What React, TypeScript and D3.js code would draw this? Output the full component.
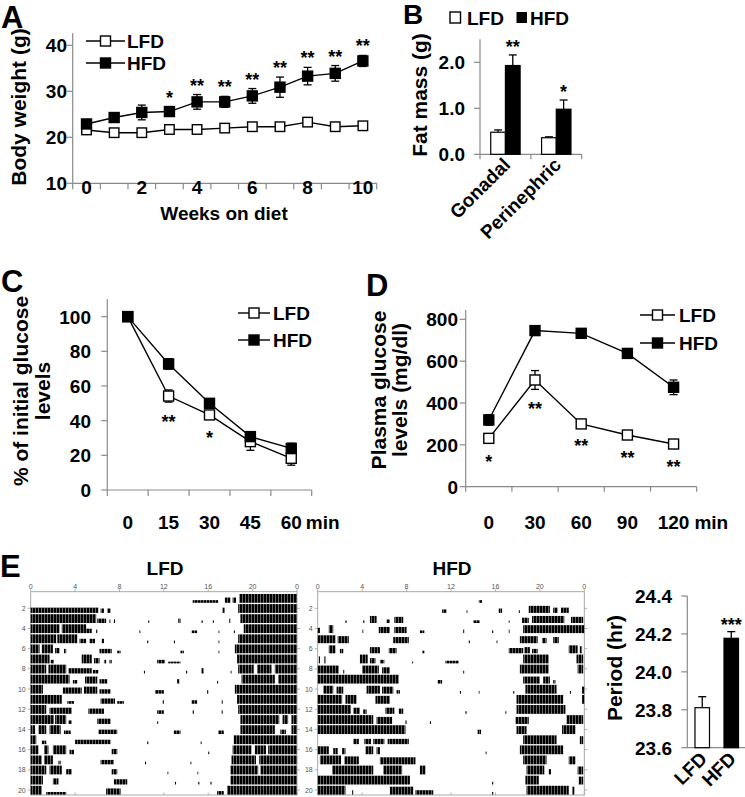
import React from "react";
import * as d3 from "d3";

const FONT = '"Liberation Sans", Arial, Helvetica, sans-serif';
const AXIS = "#8a8a8a";

// ---------- Panel A: body weight ----------
const weeks = [0, 1, 2, 3, 4, 5, 6, 7, 8, 9, 10];
const weekLabelShown = [0, 2, 4, 6, 8, 10];
const bwLFD = [21.6, 21.0, 21.0, 21.7, 21.7, 22.0, 22.3, 22.3, 23.3, 22.3, 22.5];
const bwLFDErr = [0.6, 0.7, 0.6, 0.6, 0.6, 0.6, 0.7, 0.7, 0.8, 0.6, 0.7];
const bwHFD = [22.9, 24.3, 25.4, 25.6, 27.7, 27.7, 29.0, 30.9, 33.3, 33.9, 36.6];
const bwHFDErr = [0.6, 1.0, 1.6, 1.0, 1.6, 1.2, 1.6, 2.2, 1.9, 1.7, 1.2];
const bwSig = ["", "", "", "*", "**", "**", "**", "**", "**", "**", "**"];
const bwTicks = [10, 20, 30, 40];

// ---------- Panel B: fat mass ----------
const fatSites = ["Gonadal", "Perinephric"];
const fatLFD = [0.48, 0.36];
const fatLFDErr = [0.05, 0.02];
const fatHFD = [1.93, 0.98];
const fatHFDErr = [0.23, 0.2];
const fatSig = ["**", "*"];
const fatTicks = [0, 1, 2];

// ---------- Panel C: insulin tolerance ----------
const ittTimes = ["0", "15", "30", "45", "60"];
const ittLFD = [100, 54.2, 43.3, 27.9, 18.3];
const ittLFDErr = [1, 3.5, 2, 5, 4];
const ittHFD = [100, 72.7, 50, 30.8, 24];
const ittHFDErr = [1, 3, 2, 2, 3];
const ittSig = ["", "**", "*", "", ""];
const ittTicks = [0, 20, 40, 60, 80, 100];

// ---------- Panel D: glucose tolerance ----------
const gttTimes = ["0", "30", "60", "90", "120"];
const gttLFD = [231, 510, 300, 247, 204];
const gttLFDErr = [15, 45, 12, 12, 12];
const gttHFD = [319, 746, 733, 637, 475];
const gttHFDErr = [25, 15, 18, 22, 35];
const gttSig = ["*", "**", "**", "**", "**"];
const gttTicks = [0, 200, 400, 600, 800];

// ---------- Panel E: period ----------
const groups = ["LFD", "HFD"];
const period = [23.811, 24.177];
const periodErr = [0.058, 0.035];
const periodSig = ["", "***"];
const periodTicks = [23.6, 23.8, 24.0, 24.2, 24.4];

// Actogram: per day, activity bouts [startHour, endHour, relativeHeight]
const actoHourTicks = [0, 4, 8, 12, 16, 20, 24];
const actoDayTicks = [2, 4, 6, 8, 10, 12, 14, 16, 18, 20];
const actoLFD: number[][][] = [
  [[14.6, 16.9, 0.3], [17.5, 18.0, 0.6], [18.2, 18.5, 0.6], [18.8, 24, 1]],
  [[0, 6.1, 0.6], [6.3, 6.6, 0.5], [6.9, 7.2, 0.5], [17.3, 17.5, 0.6], [18.7, 24, 1]],
  [[0, 5.9, 1], [6.0, 6.8, 0.5], [7.1, 7.2, 0.4], [7.5, 7.6, 0.4], [10.6, 10.7, 0.3], [13.3, 13.5, 0.5], [15.4, 15.5, 0.3], [16.4, 16.5, 0.3], [17.9, 18.0, 0.5], [18.9, 24, 1]],
  [[0, 2.6, 1], [2.8, 5.0, 1], [5.0, 5.5, 0.5], [5.9, 6.0, 0.4], [9.8, 9.9, 0.3], [14.5, 15.0, 0.3], [16.9, 17.0, 0.3], [18.3, 18.4, 0.3], [19.2, 24, 1]],
  [[0, 2.3, 1], [2.4, 4.2, 1], [4.4, 5.0, 0.5], [5.3, 5.8, 0.5], [6.4, 6.6, 0.5], [10.5, 10.6, 0.3], [12.9, 13.0, 0.3], [16.9, 17.0, 0.3], [18.7, 24, 1]],
  [[0, 0.8, 1], [1.0, 2.0, 1], [2.2, 2.6, 0.6], [3.0, 3.2, 0.5], [6.2, 7.3, 0.5], [7.8, 8.1, 0.3], [13.5, 13.8, 0.3], [16.9, 17.0, 0.3], [18.4, 24, 1]],
  [[0, 1.7, 1], [1.8, 2.1, 0.4], [4.6, 5.5, 1], [5.7, 6.2, 0.6], [6.6, 6.8, 0.4], [7.1, 7.3, 0.4], [11.4, 12.1, 0.4], [12.4, 13.5, 0.2], [18.6, 24, 1]],
  [[0, 1.4, 1], [1.6, 3.2, 1], [3.4, 5.5, 0.6], [5.6, 6.1, 0.4], [10.2, 10.3, 0.3], [14.0, 14.1, 0.3], [15.4, 15.6, 0.6], [18.0, 18.1, 0.3], [18.7, 20.1, 1], [20.4, 21.7, 1], [22.0, 24, 1]],
  [[0, 3.5, 1], [3.8, 4.2, 0.4], [4.9, 6.0, 0.8], [6.2, 6.9, 0.5], [13.2, 13.4, 0.5], [16.8, 16.9, 0.3], [19.0, 22.0, 1], [22.3, 24, 1]],
  [[0, 1.1, 1], [2.9, 4.6, 0.7], [4.8, 6.0, 0.8], [6.2, 7.2, 0.5], [11.2, 12.0, 0.4], [15.9, 16.0, 0.4], [18.4, 24, 1]],
  [[0, 2.8, 1], [3.3, 3.9, 0.3], [6.3, 7.6, 0.6], [7.8, 8.4, 0.3], [11.9, 12.0, 0.4], [14.5, 15.0, 0.4], [17.2, 17.3, 0.4], [18.6, 24, 1]],
  [[0, 1.4, 1], [1.7, 3.7, 0.7], [5.2, 6.6, 0.6], [11.4, 12.0, 0.4], [14.6, 14.7, 0.4], [17.2, 17.3, 0.4], [18.7, 24, 1]],
  [[0, 2.1, 1], [2.2, 3.2, 1], [3.4, 3.7, 0.4], [6.0, 7.2, 0.6], [11.4, 11.5, 0.3], [18.9, 22.4, 1], [22.7, 23.2, 1], [23.5, 24, 1]],
  [[0, 0.4, 1], [0.7, 1.4, 1], [1.7, 2.7, 1], [3.0, 3.6, 0.4], [6.1, 7.8, 0.5], [12.9, 13.5, 0.4], [16.9, 17.4, 0.4], [18.9, 22.0, 1], [22.5, 23.0, 0.5], [23.5, 24, 1]],
  [[0, 0.5, 1], [1.0, 1.4, 0.4], [4.0, 7.2, 0.5], [10.5, 10.6, 0.3], [15.3, 15.4, 0.3], [18.3, 24, 1]],
  [[0, 0.7, 1], [1.2, 1.6, 1], [2.0, 3.2, 1], [3.5, 3.9, 0.5], [7.3, 7.8, 0.6], [16.0, 16.1, 0.3], [18.2, 19.9, 1], [20.2, 21.2, 1], [21.4, 24, 1]],
  [[0, 1.0, 1], [1.2, 2.0, 1], [2.5, 2.7, 0.4], [6.3, 7.5, 0.5], [10.3, 10.4, 0.3], [14.4, 14.5, 0.3], [18.1, 20.3, 1], [20.6, 24, 1]],
  [[0, 1.4, 1], [1.7, 2.8, 1], [3.2, 3.7, 0.6], [7.3, 7.8, 0.6], [12.3, 12.4, 0.3], [15.0, 15.1, 0.3], [18.0, 20.5, 1], [20.7, 24, 1]],
  [[0, 1.1, 1], [2.0, 2.5, 0.7], [7.5, 8.7, 0.6], [13.0, 13.1, 0.3], [15.1, 15.2, 0.3], [16.2, 16.3, 0.3], [18.0, 24, 1]],
  [[0, 1.0, 1], [1.4, 3.2, 0.3], [6.8, 8.1, 0.7], [16.8, 17.4, 0.4], [17.7, 24, 1]],
];
const actoHFD: number[][][] = [
  [[14.5, 14.8, 0.3]],
  [[11.2, 11.6, 0.4], [13.4, 13.5, 0.3], [16.3, 16.6, 0.5], [18.1, 18.2, 0.3], [19.0, 20.9, 0.8], [21.2, 21.6, 0.6], [21.9, 22.6, 0.6]],
  [[2.5, 2.6, 0.3], [4.1, 4.2, 0.3], [4.7, 5.3, 0.8], [6.2, 6.5, 0.4], [6.9, 7.7, 0.7], [14.0, 14.6, 0.3], [17.2, 17.3, 0.3], [18.4, 19.0, 0.6], [19.3, 22.2, 0.8], [22.8, 23.9, 0.7]],
  [[0, 0.2, 0.6], [1.0, 1.4, 0.9], [4.0, 4.1, 0.4], [5.5, 6.5, 0.7], [6.9, 8.0, 0.7], [9.2, 9.6, 0.3], [13.1, 13.2, 0.4], [15.7, 15.8, 0.3], [17.2, 17.3, 0.4], [18.5, 24, 0.9]],
  [[0, 1.6, 0.9], [1.8, 2.8, 0.8], [6.8, 8.2, 0.7], [13.6, 13.7, 0.3], [16.1, 16.2, 0.3], [18.2, 19.8, 0.8], [20.2, 20.6, 0.6], [21.2, 21.7, 0.7]],
  [[1.0, 1.6, 0.9], [2.0, 2.3, 0.5], [4.7, 5.6, 0.7], [6.4, 7.1, 0.6], [9.4, 9.6, 0.3], [17.2, 18.5, 0.6], [18.6, 19.1, 0.7], [19.3, 19.8, 0.5], [22.6, 23.4, 0.9], [23.6, 23.8, 0.8]],
  [[0.1, 0.2, 0.8], [0.6, 0.7, 0.8], [3.8, 4.5, 1], [4.7, 5.2, 0.6], [5.6, 6.0, 0.4], [8.5, 8.6, 0.2], [11.5, 12.7, 0.3], [18.5, 20.8, 1], [23.3, 23.9, 1]],
  [[0, 1.9, 0.9], [2.3, 2.4, 0.4], [4.0, 5.5, 0.9], [5.8, 6.5, 0.7], [13.1, 13.2, 0.3], [18.2, 20.8, 1], [23.4, 23.9, 1]],
  [[0, 7.3, 1], [10.8, 11.2, 0.4], [18.5, 20.0, 0.8], [20.3, 20.9, 0.8], [21.2, 21.4, 0.4]],
  [[0.5, 1.4, 0.9], [1.7, 2.3, 0.8], [4.4, 5.6, 0.9], [5.8, 6.8, 0.8], [7.1, 7.4, 0.4], [12.8, 12.9, 0.3], [14.5, 14.6, 0.3], [17.6, 17.7, 0.3], [18.7, 21.5, 1], [22.7, 22.8, 0.3], [23.8, 24, 0.8]],
  [[0, 2.2, 1], [2.5, 3.5, 1], [5.2, 6.5, 0.9], [17.9, 22.1, 1], [23.8, 24, 1]],
  [[0, 3.0, 1], [3.2, 3.8, 0.7], [4.1, 4.4, 0.5], [6.1, 6.9, 0.7], [7.3, 7.7, 0.6], [13.3, 13.4, 0.3], [16.9, 17.0, 0.3], [17.9, 22.3, 1]],
  [[0, 5.0, 1], [5.3, 6.7, 0.8], [7.9, 8.0, 0.4], [10.1, 10.2, 0.3], [17.8, 19.0, 0.8], [22.4, 23.9, 1]],
  [[0, 7.9, 1], [14.4, 14.7, 0.5], [17.9, 18.8, 0.9], [22.0, 23.2, 1]],
  [[3.2, 3.7, 0.6], [4.2, 4.8, 0.6], [5.0, 6.0, 0.6], [6.3, 8.2, 0.6], [18.5, 21.5, 1], [23.6, 23.9, 0.9]],
  [[0, 1.0, 0.9], [1.4, 1.8, 0.7], [2.2, 2.5, 0.7], [4.3, 5.0, 0.9], [5.3, 5.6, 0.8], [15.1, 15.2, 0.3], [18.2, 22.1, 1]],
  [[0.2, 2.1, 1], [2.4, 3.7, 0.9], [5.6, 8.8, 0.8], [18.5, 20.6, 1], [22.6, 23.2, 0.9]],
  [[1.3, 5.0, 1], [5.9, 7.6, 1], [9.2, 9.7, 1], [18.8, 20.4, 1], [20.8, 21.0, 0.6], [23.4, 23.9, 0.9]],
  [[0, 8.3, 1], [15.7, 15.8, 0.3], [18.7, 19.9, 1], [23.5, 23.9, 0.9]],
  [[0, 2.5, 1], [3.1, 3.2, 0.5], [6.5, 8.6, 0.9], [8.8, 10.4, 0.5], [15.7, 15.8, 0.3], [18.8, 22.6, 1], [22.9, 23.1, 0.9]],
];

// ---------- helpers ----------
const bold = { fontFamily: FONT, fontWeight: 700 as const };

function Series({ xs, ys, errs, y, filled, size = 10 }: any) {
  const line = d3.line<number>().x((_, i) => xs[i]).y((v) => y(v));
  return (
    <g>
      <path d={line(ys) || ""} fill="none" stroke="#000" strokeWidth={1.4} />
      {ys.map((v: number, i: number) => (
        <g key={i} stroke="#000" strokeWidth={1.3}>
          <line x1={xs[i]} x2={xs[i]} y1={y(v - errs[i])} y2={y(v + errs[i])} />
          <line x1={xs[i] - 4} x2={xs[i] + 4} y1={y(v + errs[i])} y2={y(v + errs[i])} />
          <line x1={xs[i] - 4} x2={xs[i] + 4} y1={y(v - errs[i])} y2={y(v - errs[i])} />
        </g>
      ))}
      {ys.map((v: number, i: number) => (
        <rect key={"m" + i} x={xs[i] - size / 2} y={y(v) - size / 2} width={size} height={size}
          fill={filled ? "#000" : "#fff"} stroke="#000" strokeWidth={1.4} />
      ))}
    </g>
  );
}

function Legend({ x1, x2, yL, yH, tx, fs = 19 }: any) {
  const cx = (x1 + x2) / 2;
  return (
    <g>
      {[{ y: yL, f: false, t: "LFD" }, { y: yH, f: true, t: "HFD" }].map((d) => (
        <g key={d.t}>
          <line x1={x1} x2={x2} y1={d.y} y2={d.y} stroke="#000" strokeWidth={1.4} />
          <rect x={cx - 5} y={d.y - 5} width={10} height={10} fill={d.f ? "#000" : "#fff"} stroke="#000" strokeWidth={1.4} />
          <text x={tx} y={d.y + 7} fontSize={fs} {...bold}>{d.t}</text>
        </g>
      ))}
    </g>
  );
}

function YAxis({ x, y, ticks, fmt, top, labelEnd, fs = 19 }: any) {
  const [y0] = y.range();
  return (
    <g>
      <line x1={x} x2={x} y1={y0} y2={top} stroke={AXIS} strokeWidth={1.2} />
      {ticks.map((t: number) => (
        <g key={t}>
          <line x1={x - 6} x2={x} y1={y(t)} y2={y(t)} stroke={AXIS} strokeWidth={1.2} />
          <text x={labelEnd} y={y(t) + 7} textAnchor="end" fontSize={fs} {...bold}>{fmt(t)}</text>
        </g>
      ))}
    </g>
  );
}

function BandXAxis({ x, y0, tickLen = 6 }: any) {
  const [r0, r1] = x.range();
  const edges = [...x.domain().map((d: any) => x(d)), r1];
  return (
    <g>
      <line x1={r0} x2={r1} y1={y0} y2={y0} stroke={AXIS} strokeWidth={1.2} />
      {edges.map((e: number, i: number) => (
        <line key={i} x1={e} x2={e} y1={y0} y2={y0 + tickLen} stroke={AXIS} strokeWidth={1.2} />
      ))}
    </g>
  );
}

function Actogram({ x0, x1, rows, title, titleX }: any) {
  const xh = d3.scaleLinear().domain([0, 24]).range([x0, x1]);
  const dy = d3.scaleLinear().domain([2, 20]).range([608.3, 790]);
  const top = 591.7;
  const bottom = 795;
  const H = 8.8;
  return (
    <g>
      <text x={titleX} y={575} textAnchor="middle" fontSize={19} {...bold}>{title}</text>
      <rect x={x0} y={top} width={x1 - x0} height={bottom - top} fill="none" stroke="#a0a0a0" strokeWidth={0.9} />
      {actoHourTicks.map((h) => (
        <g key={h}>
          <line x1={xh(h)} x2={xh(h)} y1={top} y2={top - 2.5} stroke="#a0a0a0" strokeWidth={0.8} />
          <text x={xh(h)} y={589} textAnchor="middle" fontSize={7} fill="#555" fontFamily={FONT}>{h % 24}</text>
          <line x1={xh(h)} x2={xh(h)} y1={bottom} y2={bottom - 2.5} stroke="#a0a0a0" strokeWidth={0.8} />
        </g>
      ))}
      {actoDayTicks.map((d) => (
        <g key={d}>
          <line x1={x0 - 3} x2={x0} y1={dy(d)} y2={dy(d)} stroke="#a0a0a0" strokeWidth={0.8} />
          <line x1={x1} x2={x1 + 3} y1={dy(d)} y2={dy(d)} stroke="#a0a0a0" strokeWidth={0.8} />
          <text x={x0 - 5} y={dy(d) + 2.5} textAnchor="end" fontSize={7} fill="#555" fontFamily={FONT}>{d}</text>
        </g>
      ))}
      {rows.map((bouts: number[][], i: number) => {
        const base = dy(i + 1) + 4.6;
        return (
          <g key={i}>
            {bouts.map((b, j) => {
              const h = H * (b[2] ?? 1);
              return (
                <rect key={j} x={xh(b[0])} y={base - h} width={Math.max(0.9, xh(b[1]) - xh(b[0]))} height={h}
                  fill="url(#actPat)" />
              );
            })}
          </g>
        );
      })}
    </g>
  );
}

export default function App() {
  // Panel A scales
  const xA = d3.scaleBand<number>().domain(weeks).range([72.7, 376.7]);
  const cA = (w: number) => (xA(w) as number) + xA.bandwidth() / 2;
  const yA = d3.scaleLinear().domain([10, 40]).range([183.3, 45.3]);
  const xsA = weeks.map(cA);

  // Panel B scales
  const xB = d3.scaleBand<string>().domain(fatSites).range([480, 581.7]);
  const xB1 = d3.scaleBand<string>().domain(groups).range([0, xB.bandwidth()]).paddingOuter(0.73);
  const yB = d3.scaleLinear().domain([0, 2.5]).range([154.3, 39.3]);

  // Panel C
  const xC = d3.scaleBand<string>().domain(ittTimes).range([107.3, 311.7]);
  const cC = (t: string) => (xC(t) as number) + xC.bandwidth() / 2;
  const yC = d3.scaleLinear().domain([0, 110]).range([490, 299.3]);
  const xsC = ittTimes.map(cC);

  // Panel D
  const xD = d3.scaleBand<string>().domain(gttTimes).range([465.7, 696.7]);
  const cD = (t: string) => (xD(t) as number) + xD.bandwidth() / 2;
  const yD = d3.scaleLinear().domain([0, 800]).range([486.7, 319.3]);
  const xsD = gttTimes.map(cD);

  // Panel E bar
  const xE = d3.scaleBand<string>().domain(groups).range([687.3, 746.2]).paddingInner(0.5).paddingOuter(0.265);
  const yE = d3.scaleLinear().domain([23.6, 24.4]).range([747.7, 596]);

  const digitW = 0.556 * 19;

  return (
    <svg width={745} height={797} viewBox="0 0 745 797"
      style={{ position: "absolute", left: 0, top: 0, background: "#fff" }}>
      <defs>
        <pattern id="actPat" width={3} height={20} patternUnits="userSpaceOnUse">
          <rect x={0} y={0} width={2.6} height={20} fill="#000" />
        </pattern>
      </defs>
      <rect x={0} y={0} width={745} height={797} fill="#fff" />

      {/* ---------- A ---------- */}
      <text x={1} y={28} fontSize={31} {...bold}>A</text>
      <YAxis x={72.7} y={yA} ticks={bwTicks} fmt={(t: number) => String(t)} top={33} labelEnd={67} />
      <BandXAxis x={xA} y0={183.3} />
      {weekLabelShown.map((w) => (
        <text key={w} x={cA(w)} y={194} textAnchor="middle" fontSize={19} {...bold}>{w}</text>
      ))}
      <text x={224} y={220} textAnchor="middle" fontSize={19} {...bold}>Weeks on diet</text>
      <text transform="translate(26,107) rotate(-90)" textAnchor="middle" fontSize={21} {...bold}>Body weight (g)</text>
      <Series xs={xsA} ys={bwLFD} errs={bwLFDErr} y={yA} filled={false} size={9.5} />
      <Series xs={xsA} ys={bwHFD} errs={bwHFDErr} y={yA} filled={true} size={10} />
      {bwSig.map((s, i) => s && (
        <text key={i} x={xsA[i]} y={yA(bwHFD[i] + bwHFDErr[i]) - 3} textAnchor="middle" fontSize={18} {...bold}>{s}</text>
      ))}
      <Legend x1={86} x2={125} yL={41} yH={63} tx={127} />

      {/* ---------- B ---------- */}
      <text x={403} y={24} fontSize={28} {...bold}>B</text>
      <rect x={450} y={12} width={10.5} height={11} fill="#fff" stroke="#000" strokeWidth={1.4} />
      <text x={467} y={25} fontSize={19} {...bold}>LFD</text>
      <rect x={516.5} y={12} width={10.5} height={11} fill="#000" />
      <text x={530} y={25} fontSize={19} {...bold}>HFD</text>
      <YAxis x={480} y={yB} ticks={fatTicks} fmt={(t: number) => t.toFixed(1)} top={39.3} labelEnd={465} />
      <BandXAxis x={xB} y0={154.3} tickLen={5} />
      {fatSites.map((s, i) => {
        const gx = xB(s) as number;
        const bw = xB1.bandwidth();
        const lx = gx + (xB1("LFD") as number);
        const hx = gx + (xB1("HFD") as number);
        const eL = yB(fatLFD[i] + fatLFDErr[i]);
        const eH = yB(fatHFD[i] + fatHFDErr[i]);
        return (
          <g key={s}>
            <line x1={lx + bw / 2} x2={lx + bw / 2} y1={yB(fatLFD[i])} y2={eL} stroke="#000" strokeWidth={1.3} />
            <line x1={lx + bw / 2 - 4} x2={lx + bw / 2 + 4} y1={eL} y2={eL} stroke="#000" strokeWidth={1.3} />
            <line x1={hx + bw / 2} x2={hx + bw / 2} y1={yB(fatHFD[i])} y2={eH} stroke="#000" strokeWidth={1.3} />
            <line x1={hx + bw / 2 - 4} x2={hx + bw / 2 + 4} y1={eH} y2={eH} stroke="#000" strokeWidth={1.3} />
            <rect x={lx} y={yB(fatLFD[i])} width={bw} height={yB(0) - yB(fatLFD[i])} fill="#fff" stroke="#000" strokeWidth={1.2} />
            <rect x={hx} y={yB(fatHFD[i])} width={bw} height={yB(0) - yB(fatHFD[i])} fill="#000" stroke="#000" strokeWidth={1.2} />
            <text x={hx + bw / 2} y={eH - 2} textAnchor="middle" fontSize={18} {...bold}>{fatSig[i]}</text>
            <text transform={`translate(${gx + xB.bandwidth() / 2 + 6},${166}) rotate(-45)`} textAnchor="end" fontSize={19} {...bold}>{s}</text>
          </g>
        );
      })}
      <text transform="translate(427,95) rotate(-90)" textAnchor="middle" fontSize={21} {...bold}>Fat mass (g)</text>

      {/* ---------- C ---------- */}
      <text x={1} y={292} fontSize={31} {...bold}>C</text>
      <YAxis x={107.3} y={yC} ticks={ittTicks} fmt={(t: number) => String(t)} top={299.3} labelEnd={91} />
      <BandXAxis x={xC} y0={490} />
      {ittTimes.map((t) => (
        <text key={t} x={cC(t)} y={529} textAnchor="middle" fontSize={19} {...bold}>{t}</text>
      ))}
      <text x={cC("60") + digitW + 4} y={529} fontSize={19} {...bold}>min</text>
      <text transform="translate(28,391) rotate(-90)" textAnchor="middle" fontSize={21} {...bold}>% of initial glucose</text>
      <text transform="translate(50,391) rotate(-90)" textAnchor="middle" fontSize={21} {...bold}>levels</text>
      <Series xs={xsC} ys={ittLFD} errs={ittLFDErr} y={yC} filled={false} />
      <Series xs={xsC} ys={ittHFD} errs={ittHFDErr} y={yC} filled={true} />
      {ittSig.map((s, i) => s && (
        <text key={i} x={xsC[i]} y={yC(ittLFD[i] - ittLFDErr[i]) + 26} textAnchor="middle" fontSize={18} {...bold}>{s}</text>
      ))}
      <Legend x1={238} x2={270} yL={313} yH={340} tx={273} />

      {/* ---------- D ---------- */}
      <text x={366} y={296} fontSize={31} {...bold}>D</text>
      <YAxis x={465.7} y={yD} ticks={gttTicks} fmt={(t: number) => String(t)} top={310} labelEnd={458} />
      <BandXAxis x={xD} y0={486.7} tickLen={5} />
      {gttTimes.map((t) => (
        <text key={t} x={cD(t)} y={529} textAnchor="middle" fontSize={19} {...bold}>{t}</text>
      ))}
      <text x={cD("120") + 1.5 * digitW + 5} y={529} fontSize={19} {...bold}>min</text>
      <text transform="translate(386,390) rotate(-90)" textAnchor="middle" fontSize={21} {...bold}>Plasma glucose</text>
      <text transform="translate(407,390) rotate(-90)" textAnchor="middle" fontSize={21} {...bold}>levels (mg/dl)</text>
      <Series xs={xsD} ys={gttLFD} errs={gttLFDErr} y={yD} filled={false} />
      <Series xs={xsD} ys={gttHFD} errs={gttHFDErr} y={yD} filled={true} />
      {gttSig.map((s, i) => s && (
        <text key={i} x={xsD[i]} y={yD(gttLFD[i] - gttLFDErr[i]) + 26} textAnchor="middle" fontSize={18} {...bold}>{s}</text>
      ))}
      <Legend x1={640} x2={675} yL={315} yH={343} tx={679} />

      {/* ---------- E ---------- */}
      <text x={0} y={577} fontSize={31} {...bold}>E</text>
      <Actogram x0={30.7} x1={297} rows={actoLFD} title="LFD" titleX={165} />
      <Actogram x0={317.7} x1={584.3} rows={actoHFD} title="HFD" titleX={452} />

      <YAxis x={687.3} y={yE} ticks={periodTicks} fmt={(t: number) => t.toFixed(1)} top={596} labelEnd={672} />
      <line x1={687.3} x2={745} y1={747.7} y2={747.7} stroke={AXIS} strokeWidth={1.2} />
      {groups.map((g, i) => {
        const bx = xE(g) as number;
        const bw = xE.bandwidth();
        const e = yE(period[i] + periodErr[i]);
        return (
          <g key={g}>
            <line x1={bx + bw / 2} x2={bx + bw / 2} y1={yE(period[i])} y2={e} stroke="#000" strokeWidth={1.3} />
            <line x1={bx + bw / 2 - 4} x2={bx + bw / 2 + 4} y1={e} y2={e} stroke="#000" strokeWidth={1.3} />
            <rect x={bx} y={yE(period[i])} width={bw} height={yE(23.6) - yE(period[i])}
              fill={i === 0 ? "#fff" : "#000"} stroke="#000" strokeWidth={1.2} />
            {periodSig[i] && (
              <text x={bx + bw / 2} y={e - 1} textAnchor="middle" fontSize={18} {...bold}>{periodSig[i]}</text>
            )}
            <text transform={`translate(${bx + bw / 2 + 6},${760}) rotate(-45)`} textAnchor="end" fontSize={19} {...bold}>{g}</text>
          </g>
        );
      })}
      <text transform="translate(622,668) rotate(-90)" textAnchor="middle" fontSize={21} {...bold}>Period (hr)</text>
    </svg>
  );
}
